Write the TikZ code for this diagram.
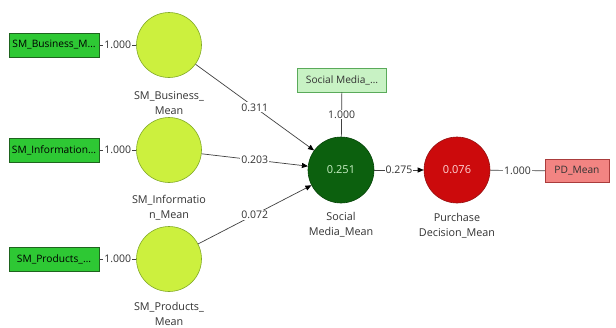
\documentclass[tikz,border=0pt]{standalone}
\usepackage{fontspec}
\setmainfont{Open Sans}
\usetikzlibrary{arrows.meta}
\definecolor{lvfill}{RGB}{204,240,62}
\definecolor{lvborder}{RGB}{130,170,40}
\definecolor{indfill}{RGB}{46,200,52}
\definecolor{indborder}{RGB}{30,100,30}
\definecolor{smfill}{RGB}{12,96,14}
\definecolor{smborder}{RGB}{8,70,10}
\definecolor{pdfill}{RGB}{204,10,12}
\definecolor{pdborder}{RGB}{150,20,20}
\definecolor{smbox}{RGB}{200,242,196}
\definecolor{smboxb}{RGB}{90,170,90}
\definecolor{pdbox}{RGB}{242,132,130}
\definecolor{pdboxb}{RGB}{170,60,60}
\definecolor{txt}{RGB}{50,50,50}
\definecolor{linec}{RGB}{65,65,65}
\begin{document}
\begin{tikzpicture}[x=1pt,y=-1pt,
  lv/.style={circle, draw=lvborder, fill=lvfill, minimum size=65pt, inner sep=0pt, line width=0.6pt},
  ind/.style={draw=indborder, fill=indfill, minimum width=90pt, minimum height=24pt, inner sep=0.5pt, font=\fontsize{10.2}{11}\selectfont, text=black},
  coef/.style={fill=white, inner sep=1pt, font=\fontsize{10.5}{11}\selectfont, text=txt},
  lbl/.style={align=center, font=\fontsize{10.8}{15}\selectfont, text=txt},
  conn/.style={draw=linec, line width=0.7pt},
  arr/.style={conn, -{Triangle[length=6pt,width=5pt,color=black]}}
]
\useasboundingbox[fill=white] (0,0) rectangle (616,327);

% left indicators and latent variables
\node[ind] (b1) at (54,45) {SM\_Business\_M…};
\node[ind] (b2) at (54,150) {SM\_Information…};
\node[ind] (b3) at (54,259) {SM\_Products\_…};
\node[lv] (c1) at (169,45) {};
\node[lv] (c2) at (169,150) {};
\node[lv] (c3) at (169,259) {};
\node[lbl] (l1) at (169,103) {SM\_Business\_\\Mean};
\node[lbl] (l2) at (169,208) {SM\_Informatio\\n\_Mean};
\node[lbl] (l3) at (169,314) {SM\_Products\_\\Mean};

% central
\node[circle, draw=smborder, fill=smfill, minimum size=66pt, inner sep=0pt, line width=0.6pt,
      text={rgb,255:red,200;green,240;blue,196}, font=\fontsize{11}{12}\selectfont] (sm) at (341,170) {0.251};
\node[draw=smboxb, fill=smbox, minimum width=89pt, minimum height=24pt, inner sep=0.5pt,
      font=\fontsize{10.2}{11}\selectfont, text=txt] (smb) at (342,80) {Social Media\_…};
\node[lbl] (lsm) at (341,225) {Social\\Media\_Mean};

\node[circle, draw=pdborder, fill=pdfill, minimum size=66pt, inner sep=0pt, line width=0.6pt,
      text={rgb,255:red,255;green,214;blue,214}, font=\fontsize{11}{12}\selectfont] (pd) at (457,170) {0.076};
\node[draw=pdboxb, fill=pdbox, minimum width=64pt, minimum height=23pt, inner sep=0.5pt,
      font=\fontsize{10.2}{11}\selectfont, text=txt] (pdb) at (577,171) {PD\_Mean};
\node[lbl] (lpd) at (457,226) {Purchase\\Decision\_Mean};

% connectors
\draw[conn] (b1) -- node[coef] {1.000} (c1);
\draw[conn] (b2) -- node[coef] {1.000} (c2);
\draw[conn] (b3) -- node[coef] {1.000} (c3);
\draw[conn] (smb) -- node[coef] {1.000} (sm);
\draw[arr] (c1) -- node[coef] {0.311} (sm);
\draw[arr] (c2) -- node[coef] {0.203} (sm);
\draw[arr] (c3) -- node[coef] {0.072} (sm);
\draw[arr] (sm) -- node[coef] {0.275} (pd);
\draw[conn] (pd) -- node[coef] {1.000} (pdb);
\end{tikzpicture}
\end{document}
